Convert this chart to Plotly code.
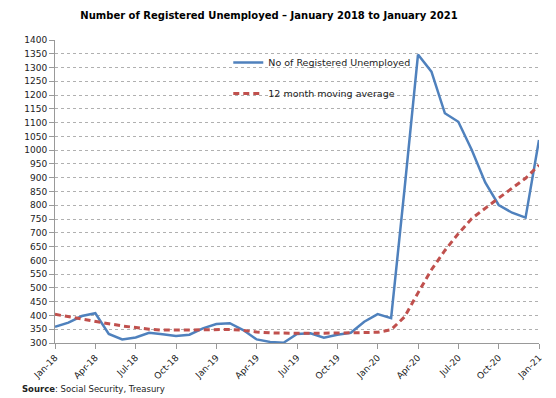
import plotly.graph_objects as go

months = ["Jan-18","Feb-18","Mar-18","Apr-18","May-18","Jun-18","Jul-18","Aug-18","Sep-18","Oct-18","Nov-18","Dec-18",
          "Jan-19","Feb-19","Mar-19","Apr-19","May-19","Jun-19","Jul-19","Aug-19","Sep-19","Oct-19","Nov-19","Dec-19",
          "Jan-20","Feb-20","Mar-20","Apr-20","May-20","Jun-20","Jul-20","Aug-20","Sep-20","Oct-20","Nov-20","Dec-20",
          "Jan-21"]

registered = [359, 374, 398, 408, 333, 313, 320, 337, 332, 325, 330, 353,
              369, 372, 347, 313, 304, 301, 333, 335, 319, 330, 337, 377,
              405, 390, 860, 1347, 1285, 1134, 1103, 1001, 883, 801, 773, 755,
              1037]

moving_avg = [404, 395, 386, 378, 370, 362, 355, 350, 347, 346, 347, 348,
              349, 349, 346, 340, 337, 335, 335, 335, 335, 336, 337, 338,
              339, 348, 395, 482, 566, 636, 697, 752, 790, 826, 862, 898,
              946]

tick_labels = months[::3]
y_ticks = list(range(300, 1401, 50))

fig = go.Figure()
fig.add_trace(go.Scatter(x=months, y=registered, mode="lines", name="No of Registered Unemployed",
                         line=dict(color="#4F81BD", width=2.5), legend="legend"))
fig.add_trace(go.Scatter(x=months, y=moving_avg, mode="lines", name="12 month moving average",
                         line=dict(color="#C0504D", width=3, dash="6px,4px"), legend="legend2"))

font_family = "DejaVu Sans"
W, H = 548, 390
fig.update_layout(
    width=W, height=H,
    margin=dict(l=47, r=15, t=32, b=55),
    paper_bgcolor="white", plot_bgcolor="white",
    font=dict(family=font_family, size=9, color="#222222"),
    title=dict(text="<b>Number of Registered Unemployed – January 2018 to January 2021</b>",
               x=261 / W, xanchor="center", y=1 - 7 / H, yanchor="middle",
               font=dict(family=font_family, size=10, color="#000000")),
    legend=dict(x=0.358, y=0.974, xanchor="left", yanchor="top", bgcolor="rgba(0,0,0,0)",
                font=dict(size=9.5, color="#222222")),
    legend2=dict(x=0.358, y=0.871, xanchor="left", yanchor="top", bgcolor="rgba(0,0,0,0)",
                 font=dict(size=9.5, color="#222222")),
    showlegend=True,
)
fig.update_xaxes(
    type="category", categoryorder="array", categoryarray=months,
    range=[0, len(months) - 1],
    tickmode="array", tickvals=tick_labels, ticktext=tick_labels,
    tickangle=-45, ticks="outside", ticklen=5, tickcolor="#999999",
    showline=True, linecolor="#999999", linewidth=1, showgrid=False,
    tickfont=dict(size=9, color="#222222"),
)
fig.update_yaxes(
    range=[300, 1400], tickmode="array", tickvals=y_ticks,
    ticks="outside", ticklen=5, tickcolor="#999999",
    showline=True, linecolor="#999999", linewidth=1,
    showgrid=True, gridcolor="#b0b0b0", gridwidth=1, griddash="3px,3px",
    zeroline=False, tickfont=dict(size=9, color="#222222"),
)
fig.add_annotation(text="<b>Source</b>: Social Security, Treasury", xref="paper", yref="paper",
                   x=(12 - 47) / 486, y=(335 - 381) / 303, xanchor="left", yanchor="middle",
                   showarrow=False, font=dict(family=font_family, size=8.5, color="#222222"))
fig.write_html("out.html")
